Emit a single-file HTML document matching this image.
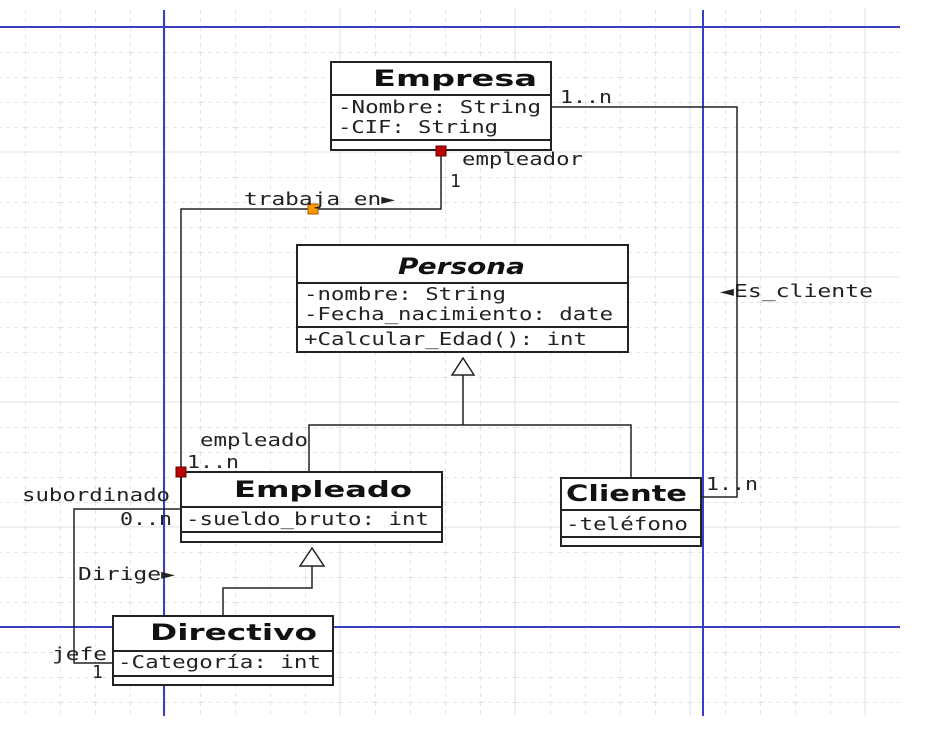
<!DOCTYPE html>
<html><head><meta charset="utf-8"><style>
body{margin:0;width:946px;height:731px;overflow:hidden;background:#fff}
text{font-family:"DejaVu Sans Mono","Liberation Mono",monospace;font-size:18px;fill:#222}
.t{font-family:"DejaVu Sans","Liberation Sans",sans-serif;font-weight:bold;font-size:22px;fill:#111}
</style></head><body>
<svg width="946" height="731" xmlns="http://www.w3.org/2000/svg">
<defs>
<pattern id="g" x="25" y="2" width="35" height="25" patternUnits="userSpaceOnUse">
<path d="M0 0V25" stroke="#c8ccd0" stroke-dasharray="4 4"/>
<path d="M0 0H35" stroke="#c8ccd0" stroke-dasharray="4 4"/>
</pattern>
</defs>
<rect x="0" y="8" width="900" height="708" fill="url(#g)"/>
<g stroke="#dde3e8"><path d="M340 8V716M515 8V716M690 8V716M165 8V716M865 8V716"/><path d="M0 152H900M0 277H900M0 402H900M0 527H900"/></g>
<g stroke="#3b3fbf" stroke-width="2"><path d="M164 10V716M703 10V716M0 27H900M0 627H900"/></g>
<g fill="none" stroke="#222" stroke-width="1.5">
<path d="M551 107H737V497H701"/>
<path d="M441 151V209H181V472"/>
<path d="M463 375V425H309V472M463 425H631V478"/>
<path d="M312 566V588H223V616"/>
<path d="M181 509H74V663H113"/>
<path d="M463 358L452 375H474Z" fill="#fff"/>
<path d="M312 548L300 566H324Z" fill="#fff"/>
</g>
<g fill="#fff" stroke="#222" stroke-width="2">
<rect x="331" y="62" width="220" height="88"/><path d="M331 95H551M331 140H551"/>
<rect x="297" y="245" width="331" height="107"/><path d="M297 283H628M297 327H628"/>
<rect x="181" y="472" width="261" height="70"/><path d="M181 507H442M181 532H442"/>
<rect x="561" y="478" width="140" height="68"/><path d="M561 510H701M561 537H701"/>
<rect x="113" y="616" width="220" height="69"/><path d="M113 651H333M113 676H333"/>
</g>
<rect x="436" y="146" width="10" height="10" fill="#b00" stroke="#600"/>
<rect x="176" y="467" width="10" height="10" fill="#b00" stroke="#600"/>
<rect x="308" y="204" width="10" height="10" fill="#f90" stroke="#a50"/>
<text class="t" x="373" y="86" textLength="164" lengthAdjust="spacingAndGlyphs">Empresa</text>
<text class="t" x="398" y="274" textLength="127" lengthAdjust="spacingAndGlyphs" font-style="italic">Persona</text>
<text class="t" x="234" y="497" textLength="178" lengthAdjust="spacingAndGlyphs">Empleado</text>
<text class="t" x="566" y="501" textLength="121" lengthAdjust="spacingAndGlyphs">Cliente</text>
<text class="t" x="150" y="640" textLength="167" lengthAdjust="spacingAndGlyphs">Directivo</text>
<text x="338" y="113" textLength="203" lengthAdjust="spacingAndGlyphs">-Nombre: String</text>
<text x="338" y="133" textLength="160" lengthAdjust="spacingAndGlyphs">-CIF: String</text>
<text x="304" y="300" textLength="202" lengthAdjust="spacingAndGlyphs">-nombre: String</text>
<text x="304" y="320" textLength="309" lengthAdjust="spacingAndGlyphs">-Fecha_nacimiento: date</text>
<text x="304" y="345" textLength="283" lengthAdjust="spacingAndGlyphs">+Calcular_Edad(): int</text>
<text x="186" y="525" textLength="243" lengthAdjust="spacingAndGlyphs">-sueldo_bruto: int</text>
<text x="566" y="530" textLength="122" lengthAdjust="spacingAndGlyphs">-teléfono</text>
<text x="118" y="668" textLength="203" lengthAdjust="spacingAndGlyphs">-Categoría: int</text>
<text x="560" y="103" textLength="52" lengthAdjust="spacingAndGlyphs">1..n</text>
<text x="706" y="490" textLength="52" lengthAdjust="spacingAndGlyphs">1..n</text>
<text x="720" y="297" textLength="153" lengthAdjust="spacingAndGlyphs">◄Es_cliente</text>
<text x="462" y="165" textLength="121" lengthAdjust="spacingAndGlyphs">empleador</text>
<text x="450" y="187">1</text>
<text x="244" y="205" textLength="151" lengthAdjust="spacingAndGlyphs">trabaja_en►</text>
<text x="200" y="446" textLength="108" lengthAdjust="spacingAndGlyphs">empleado</text>
<text x="187" y="468" textLength="52" lengthAdjust="spacingAndGlyphs">1..n</text>
<text x="22" y="501" textLength="148" lengthAdjust="spacingAndGlyphs">subordinado</text>
<text x="120" y="525" textLength="52" lengthAdjust="spacingAndGlyphs">0..n</text>
<text x="78" y="580" textLength="97" lengthAdjust="spacingAndGlyphs">Dirige►</text>
<text x="52" y="660" textLength="55" lengthAdjust="spacingAndGlyphs">jefe</text>
<text x="92" y="678">1</text>
</svg>
</body></html>
